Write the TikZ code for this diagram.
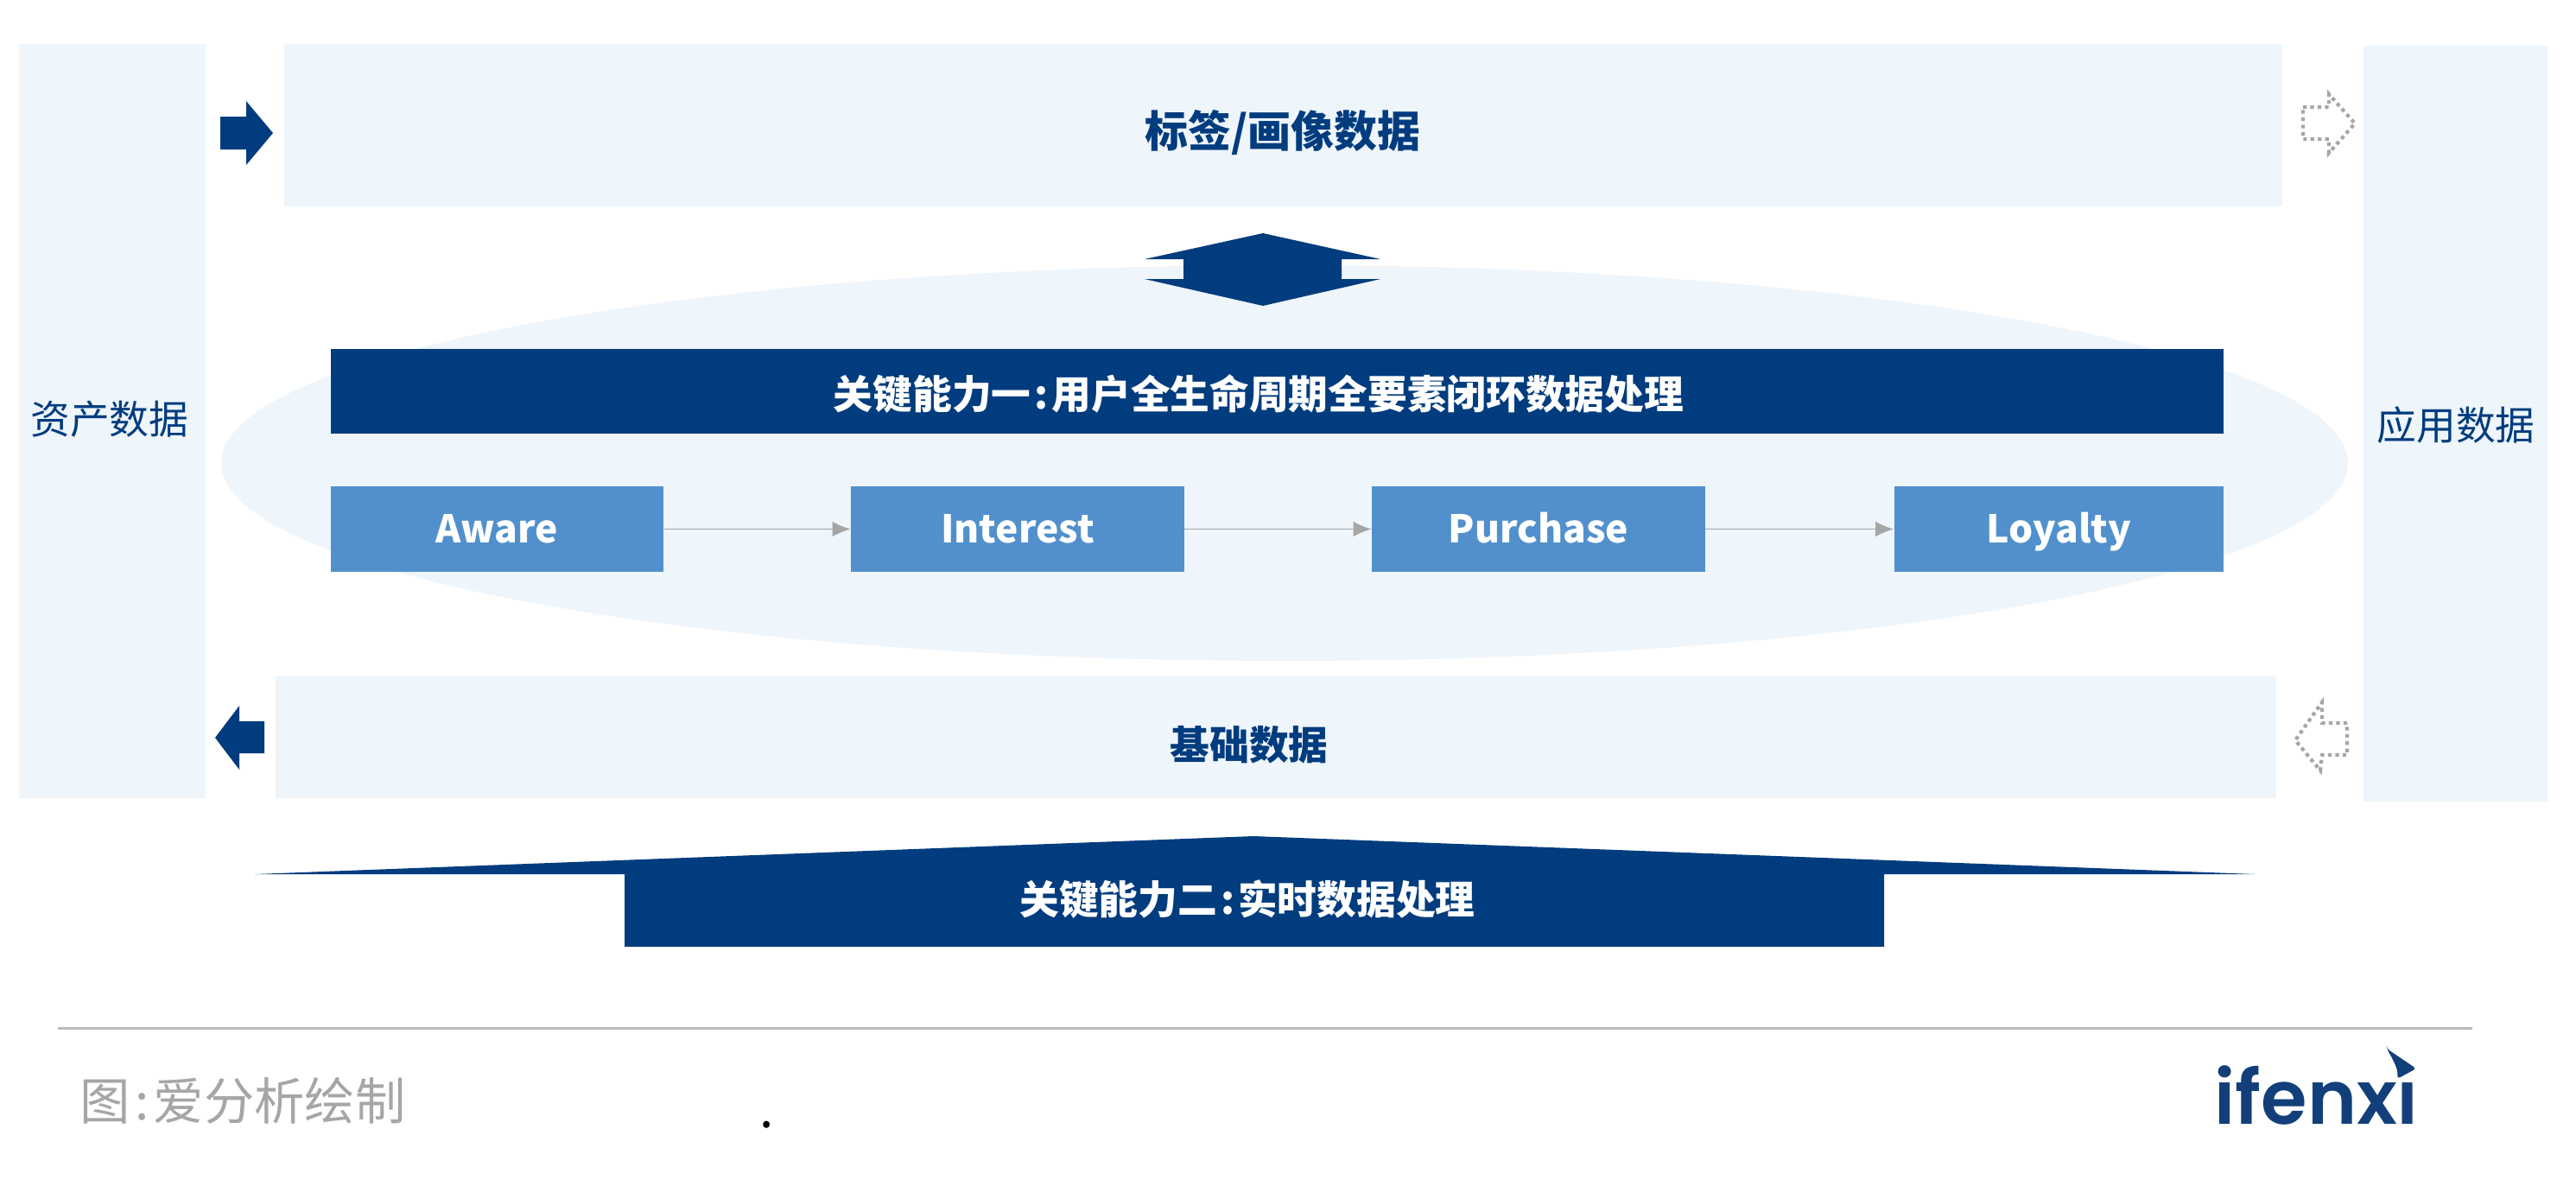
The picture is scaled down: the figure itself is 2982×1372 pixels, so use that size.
\documentclass[tikz,border=0pt]{standalone}
\usepackage{fontspec}
\setmainfont{Noto Sans CJK SC}
\newfontfamily\logofont{Poppins SemiBold}
\usetikzlibrary{arrows.meta}
\newcommand{\widecolon}{\hspace{.09em}:\hspace{.09em}}
\definecolor{panelblue}{HTML}{EEF5FB}
\definecolor{darkblue}{HTML}{003C7E}
\definecolor{stageblue}{HTML}{5190CC}
\definecolor{arrowgray}{HTML}{A6A6A6}
\definecolor{rulegray}{HTML}{BBBBBB}
\definecolor{logoblue}{HTML}{123F7A}
\tikzset{
  paneltext/.style={font=\fontsize{13}{15}\selectfont\bfseries, text=darkblue, inner sep=0pt},
  sidetext/.style={font=\fontsize{13}{15}\selectfont, text=darkblue, inner sep=0pt},
  bartext/.style={font=\fontsize{13}{15}\selectfont\bfseries, text=white, inner sep=0pt},
  stagebox/.style={fill=stageblue, font=\fontsize{12.6}{15}\selectfont\bfseries, text=white,
    minimum width=3.85cm, minimum height=0.99cm, inner sep=0pt, text height=11.7pt, text depth=2.5pt},
  flowarrow/.style={draw=arrowgray, line width=0.5pt, -{Latex[length=6pt,width=5pt]}},
  dotarrow/.style={draw=arrowgray, line width=1.2pt, dash pattern=on 1.2pt off 1.2pt}
}
\begin{document}
\begin{tikzpicture}[x=0.01cm, y=-0.01cm]
  \useasboundingbox (0,0) rectangle (2982,1372);
  % panels, all coordinates are reference pixels
  \fill[panelblue] (22,51) rectangle (238,924);
  \fill[panelblue] (329,51) rectangle (2642,239);
  \fill[panelblue] (2736,53) rectangle (2949,928);
  \fill[panelblue] (319,783) rectangle (2635,924);
  \fill[panelblue] (1487,536) ellipse [x radius=1231, y radius=229];
  \node[sidetext] (asset) at (127,485) {资产数据};
  \node[sidetext] (appdata) at (2843,492) {应用数据};
  \node[paneltext, font=\fontsize{14.2}{16}\selectfont\bfseries] (tagdata) at (1485,153) {标签/画像数据};
  \node[paneltext] (basedata) at (1446,862) {基础数据};
  % filled arrows between the panels
  \fill[darkblue] (255,135) -- (285,135) -- (285,117) -- (316,154) -- (285,191) -- (285,173) -- (255,173) -- cycle;
  \fill[darkblue] (306,835) -- (277,835) -- (277,817) -- (249,854) -- (277,891) -- (277,872) -- (306,872) -- cycle;
  \fill[darkblue] (1462,270) -- (1598,300) -- (1553,300) -- (1553,323) -- (1598,323) -- (1462,354)
    -- (1325,323) -- (1370,323) -- (1370,300) -- (1325,300) -- cycle;
  % the dotted ones on the right
  \draw[dotarrow] (2666,124) -- (2696,124) -- (2696,109) -- (2726,143) -- (2696,177) -- (2696,161) -- (2666,161) -- cycle;
  \draw[dotarrow] (2717,837) -- (2688,837) -- (2688,813) -- (2657,857) -- (2686,892) -- (2688,874) -- (2717,874) -- cycle;
  % first capability and its four stages
  \fill[darkblue] (383,404) rectangle (2574,502);
  \node[bartext] (capone) at (1457,456) {关键能力一\widecolon 用户全生命周期全要素闭环数据处理};
  \node[stagebox] (aware) at (575.5,612.5) {Aware};
  \node[stagebox] (interest) at (1178,612.5) {Interest};
  \node[stagebox] (purchase) at (1781,612.5) {Purchase};
  \node[stagebox, minimum width=3.81cm] (loyalty) at (2383.5,612.5) {Loyalty};
  \draw[flowarrow] (aware) -- (interest);
  \draw[flowarrow] (interest) -- (purchase);
  \draw[flowarrow] (purchase) -- (loyalty);
  % second capability
  \fill[darkblue] (295,1012) -- (1451,968) -- (2610,1012) -- (2181,1012) -- (2181,1096) -- (723,1096) -- (723,1012) -- cycle;
  \node[bartext] (captwo) at (1444,1041) {关键能力二\widecolon 实时数据处理};
  % footer
  \fill[rulegray] (67,1188.5) rectangle (2862,1191.5);
  \node[font=\fontsize{16.6}{18}\selectfont, text=arrowgray, inner sep=0pt, anchor=west] (source) at (92,1274) {图\widecolon 爱分析绘制};
  \node[font=\fontsize{16.6}{18}\selectfont, inner sep=0pt, anchor=base] (stray) at (888,1305) {.};
  \node[font=\fontsize{24.6}{27}\selectfont\logofont, text=logoblue, inner sep=0pt, anchor=base west] (logo) at (2563,1301) {ifenxı};
  \fill[logoblue, rounded corners=1pt] (2763,1214) -- (2797,1237) -- (2775,1249) .. controls (2776,1238) and (2772,1230) .. cycle;
\end{tikzpicture}
\end{document}
